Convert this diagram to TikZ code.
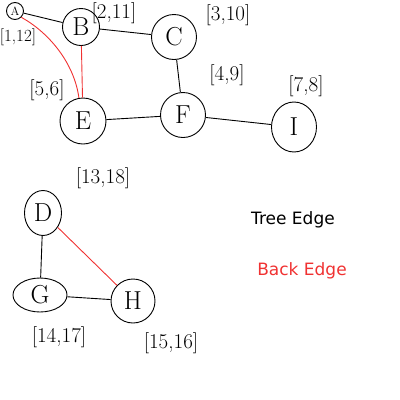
\documentclass[tikz,border=0pt]{standalone}
\usepackage{fontspec}
\newfontfamily\keyfont{DejaVu Sans}
\usetikzlibrary{arrows,
	arrows.meta,
	calc,
	shapes}

\definecolor{backred}{RGB}{240,50,50}

\begin{document}
\begin{tikzpicture}[x=1pt,y=-1pt]
        \tikzstyle{vertex}=[circle,draw,line width=0.9pt,minimum size=42pt,inner sep=0pt,font=\fontsize{26}{26}\selectfont]
        \tikzstyle{stamp}=[inner sep=1pt,font=\fontsize{21}{21}\selectfont]
        \tikzstyle{tree}=[line width=0.9pt]
        \tikzstyle{back}=[backred,line width=0.9pt]
        \useasboundingbox (0,0) rectangle (400,400);
        \node[vertex,minimum size=17pt,font=\fontsize{12}{12}\selectfont] (v_a) at (15,11) {A};
        \node[vertex,minimum size=37pt] (v_b) at (81,27) {B};
        \node[vertex,minimum size=45pt] (v_c) at (174,37) {C};
        \node[vertex,minimum size=45pt] (v_f) at (183,115) {F};
        \node[vertex,minimum size=46pt] (v_e) at (83,121) {E};
        \node[vertex,ellipse,minimum width=45pt,minimum height=50pt] (v_i) at (294,127) {I};
        \node[vertex,ellipse,minimum width=37pt,minimum height=45pt] (v_d) at (43,213) {D};
        \node[vertex,ellipse,minimum width=54pt,minimum height=34pt] (v_g) at (40,295) {G};
        \node[vertex,minimum size=44pt] (v_h) at (133,301) {H};
        \node[stamp,font=\fontsize{17}{17}\selectfont] (l_a) at (18,37) {[1,12]};
        \node[stamp] (l_b) at (114,13) {[2,11]};
        \node[stamp] (l_c) at (228,15) {[3,10]};
        \node[stamp] (l_f) at (227,75) {[4,9]};
        \node[stamp] (l_e) at (47,90) {[5,6]};
        \node[stamp] (l_i) at (306,86) {[7,8]};
        \node[stamp] (l_d) at (103,178) {[13,18]};
        \node[stamp] (l_g) at (59,337) {[14,17]};
        \node[stamp] (l_h) at (171,343) {[15,16]};
        \node[font=\keyfont\fontsize{17}{17}\selectfont] (k_tree) at (293,220) {Tree Edge};
        \node[font=\keyfont\fontsize{17}{17}\selectfont,text=backred] (k_back) at (302,271) {Back Edge};
        \draw[tree] (v_a) -- (v_b) -- (v_c) -- (v_f) -- (v_e);
        \draw[tree] (v_f) -- (v_i);
        \draw[tree] (v_d) -- (v_g) -- (v_h);
        \draw[back] (v_e) -- (v_b);
        \draw[back] (v_a.south east) .. controls (48,32) and (74,62) .. (v_e.100);
        \draw[back] (v_d) -- (v_h);
      \end{tikzpicture}
\end{document}
